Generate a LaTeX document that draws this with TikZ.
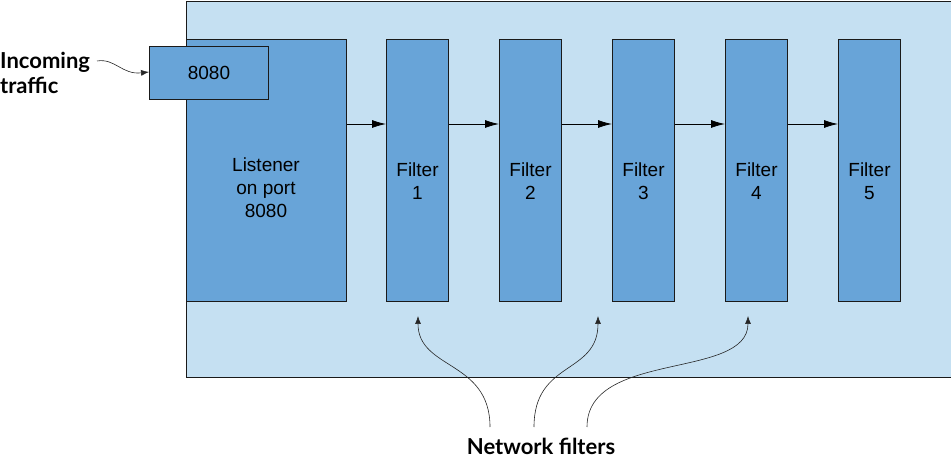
\documentclass[tikz,border=0pt]{standalone}
\usepackage{fontspec}
\setmainfont{Liberation Sans}
\newfontfamily\labelfont{Lato}
\usetikzlibrary{arrows.meta}
\definecolor{outerfill}{HTML}{C5E0F2}
\definecolor{boxfill}{HTML}{68A4D8}
\definecolor{edgecol}{HTML}{1A1A1A}
\tikzset{
  outerbox/.style={draw=edgecol, fill=outerfill, line width=1pt},
  blockbox/.style={draw=edgecol, fill=boxfill, line width=1pt, inner sep=0pt},
  boxtext/.style={font=\fontsize{19}{23}\selectfont, align=center, text=black, inner sep=0pt},
  flow/.style={-{Latex[length=14pt,width=8pt]}, line width=0.8pt, draw=black},
  note/.style={-{Latex[length=8pt,width=6pt]}, line width=0.6pt, draw=black!85},
  bigtext/.style={font=\labelfont\bfseries\fontsize{22}{25}\selectfont, align=left, inner sep=0pt}
}
\begin{document}
\begin{tikzpicture}[x=1pt,y=-1pt]
\useasboundingbox (0,0) rectangle (951,462);
\node[outerbox, minimum width=765pt, minimum height=376pt, anchor=north west, inner sep=0pt] (outer) at (185.5,1) {};
\node[blockbox, minimum width=160pt, minimum height=262pt, anchor=north west] (listener) at (185.5,39) {};
\node[boxtext] (listenertext) at ([yshift=-17pt]listener.center) {Listener\\on port\\8080};
\node[blockbox, minimum width=119pt, minimum height=53pt, anchor=north west] (port) at (149,46) {};
\node[boxtext] (porttext) at (port.center) {8080};
\foreach \i/\x in {1/386,2/499,3/612,4/725,5/838}{
  \node[blockbox, minimum width=62pt, minimum height=262pt, anchor=north west] (f\i) at (\x,39) {};
  \node[boxtext] (ft\i) at ([yshift=-11pt]f\i.center) {Filter\\\i};
}
\draw[flow] (listener.east |- 0,124) -- (f1.west |- 0,124);
\draw[flow] (f1.east |- 0,124) -- (f2.west |- 0,124);
\draw[flow] (f2.east |- 0,124) -- (f3.west |- 0,124);
\draw[flow] (f3.east |- 0,124) -- (f4.west |- 0,124);
\draw[flow] (f4.east |- 0,124) -- (f5.west |- 0,124);
\node[bigtext, anchor=west] (incoming) at (0,73) {Incoming\\traffic};
\draw[note] (97,61) .. controls (115,58) and (122,75) .. (port.west |- 0,72);
\node[bigtext, anchor=north] (netf) at (541,438) {Network filters};
\coordinate (t1) at (418,316);
\coordinate (t2) at (598,316);
\coordinate (t3) at (748,316);
\coordinate (s1) at (490,427);
\coordinate (s2) at (534,427);
\coordinate (s3) at (587,427);
\draw[note] (s1) .. controls (490,360) and (418,370) .. (t1);
\draw[note] (s2) .. controls (534,360) and (598,375) .. (t2);
\draw[note] (s3) .. controls (587,350) and (748,380) .. (t3);
\end{tikzpicture}
\end{document}
